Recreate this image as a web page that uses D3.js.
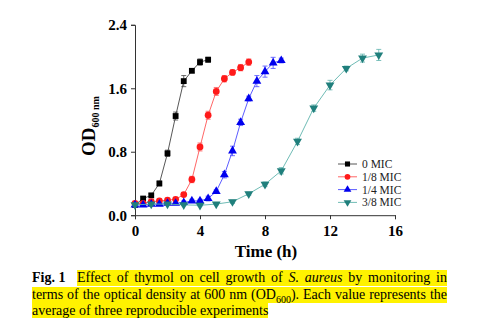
<!DOCTYPE html>
<html><head><meta charset="utf-8">
<script src="https://cdn.jsdelivr.net/npm/d3@7"></script>
<style>
body{margin:0;background:#fff;width:500px;height:329px;overflow:hidden;position:relative;font-family:'Liberation Serif','Times New Roman',Times,serif;}
.cap{position:absolute;font-size:14px;line-height:16px;height:16px;white-space:nowrap;font-family:'Liberation Serif','Times New Roman',Times,serif;}
.hl{background:#fff200;}
.just{text-align:justify;text-align-last:justify;}
text{font-family:'Liberation Serif','Times New Roman',Times,serif;}
</style></head>
<body>
<svg id="chart" width="500" height="329" style="position:absolute;left:0;top:0"></svg>
<div class="cap" style="left:32px;top:270px;font-weight:bold;">Fig. 1</div>
<div class="cap hl just" style="left:77px;top:270px;width:370px;">Effect of thymol on cell growth of <i>S. aureus</i> by monitoring in</div>
<div class="cap hl just" style="left:32px;top:286.5px;width:415px;">terms of the optical density at 600 nm (OD<sub style="font-size:10px;line-height:0">600</sub>). Each value represents the</div>
<div class="cap" style="left:32px;top:303px;"><span class="hl">average of three reproducible experiments</span></div>
<script>
const seriesNames = ["0 MIC","1/8 MIC","1/4 MIC","3/8 MIC"];
const t0 = [0,0.5,1,1.5,2,2.5,3,3.5,4,4.5];
const v0 = [0.13,0.21,0.25,0.40,0.78,1.25,1.69,1.82,1.93,1.96];
const e0 = [0.01,0.02,0.02,0.03,0.04,0.05,0.07,0.02,0.04,0.03];
const t1 = [0,0.5,1,1.5,2,2.5,3,3.5,4,4.5,5,5.5,6,6.5,7];
const v1 = [0.15,0.15,0.17,0.18,0.19,0.20,0.26,0.45,0.86,1.26,1.56,1.72,1.80,1.86,1.93];
const e1 = [0.01,0.01,0.01,0.02,0.02,0.02,0.02,0.04,0.05,0.05,0.05,0.04,0.03,0.04,0.04];
const t2 = [0,0.5,1,1.5,2,2.5,3,3.5,4,4.5,5,5.5,6,6.5,7,7.5,8,8.5,9];
const v2 = [0.13,0.13,0.14,0.14,0.15,0.15,0.16,0.18,0.18,0.21,0.30,0.51,0.81,1.17,1.47,1.69,1.81,1.92,1.95];
const e2 = [0.01,0.01,0.01,0.01,0.01,0.01,0.02,0.02,0.02,0.03,0.02,0.04,0.06,0.04,0.03,0.07,0.07,0.07,0.03];
const t3 = [0,1,2,3,4,5,6,7,8,9,10,11,12,13,14,15];
const v3 = [0.13,0.14,0.14,0.13,0.125,0.14,0.17,0.27,0.39,0.56,0.93,1.35,1.64,1.85,1.98,2.02];
const e3 = [0.01,0.01,0.01,0.01,0.01,0.01,0.02,0.02,0.03,0.04,0.04,0.04,0.06,0.03,0.05,0.07];
const xTicks = [0,4,8,12,16];
const yTicks = [0.0,0.8,1.6,2.4];
const markerColors = ["#000000","#ff1a1a","#0000ee","#207f7c"];
const lineColors = ["#444444","#ff5555","#4a4aff","#5fb3ad"];
const symbols = [d3.symbolSquare, d3.symbolCircle, d3.symbolTriangle, "down"];
const FONT = "'Liberation Serif','Times New Roman',Times,serif";

const data = [[t0,v0,e0],[t1,v1,e1],[t2,v2,e2],[t3,v3,e3]].map((s,i)=>({
  name: seriesNames[i],
  pts: s[0].map((t,j)=>({t, v:s[1][j], e:s[2][j]}))
}));

const svg = d3.select("#chart");
const x = d3.scaleLinear().domain([0,16]).range([135,395]);
const y = d3.scaleLinear().domain([0,2.4]).range([215.2,24.8]);

const xa = svg.append("g").attr("transform","translate(0,215.2)")
  .call(d3.axisBottom(x).tickValues(xTicks).tickFormat(d3.format("d")).tickSizeOuter(0).tickSize(4));
const ya = svg.append("g").attr("transform","translate(135,0)")
  .call(d3.axisLeft(y).tickValues(yTicks).tickFormat(d3.format(".1f")).tickSizeOuter(0).tickSize(4));
[xa,ya].forEach(a=>{
  a.attr("font-family",FONT);
  a.select(".domain").attr("stroke","#333").attr("stroke-width",1);
  a.selectAll(".tick line").attr("stroke","#333");
  a.selectAll("text").style("font-family",FONT).attr("font-weight","bold").attr("font-size",15).attr("fill","#000");
});
xa.selectAll("text").attr("dy","0.95em");
ya.selectAll("text").attr("dx","-1px");

function sym(i,size){
  if(symbols[i]==="down") return d3.symbol().type(d3.symbolTriangle).size(size)();
  return d3.symbol().type(symbols[i]).size(size)();
}
const sizes = [34,36,34,34];

const line = d3.line().x(d=>x(d.t)).y(d=>y(d.v));
data.forEach((s,i)=>{
  const g = svg.append("g");
  g.append("path").attr("d",line(s.pts)).attr("fill","none").attr("stroke",lineColors[i]).attr("stroke-width",0.9);
  s.pts.forEach(p=>{
    const cx = x(p.t);
    g.append("path").attr("d",`M${cx},${y(p.v+p.e)}V${y(p.v-p.e)}M${cx-2.5},${y(p.v+p.e)}H${cx+2.5}M${cx-2.5},${y(p.v-p.e)}H${cx+2.5}`)
      .attr("stroke",lineColors[i]).attr("stroke-width",0.8).attr("fill","none");
  });
  g.selectAll(".m").data(s.pts).enter().append("path")
    .attr("d",sym(i,sizes[i]))
    .attr("transform",d=>`translate(${x(d.t)},${y(d.v)})${symbols[i]==="down"?" rotate(180)":""}`)
    .attr("fill",markerColors[i]);
});

const lg = svg.append("g");
seriesNames.forEach((n,i)=>{
  const yy = 164 + i*12.8;
  lg.append("line").attr("x1",338).attr("x2",357).attr("y1",yy).attr("y2",yy).attr("stroke",lineColors[i]).attr("stroke-width",0.9);
  lg.append("path").attr("d",sym(i,26)).attr("transform",`translate(347.5,${yy})${symbols[i]==="down"?" rotate(180)":""}`).attr("fill",markerColors[i]);
  lg.append("text").attr("x",362).attr("y",yy).attr("dy","0.35em").style("font-family",FONT).attr("font-size",11.5).attr("fill","#222").text(n);
});

svg.append("text").attr("x",266).attr("y",257).attr("text-anchor","middle").style("font-family",FONT).attr("font-weight","bold").attr("font-size",17).text("Time (h)");
const yl = svg.append("text").attr("transform","translate(95,126) rotate(-90)").attr("text-anchor","middle").style("font-family",FONT).attr("font-weight","bold").attr("font-size",19);
yl.append("tspan").text("OD");
yl.append("tspan").attr("font-size",10).attr("dy",4).text("600 nm");
</script>
</body></html>
